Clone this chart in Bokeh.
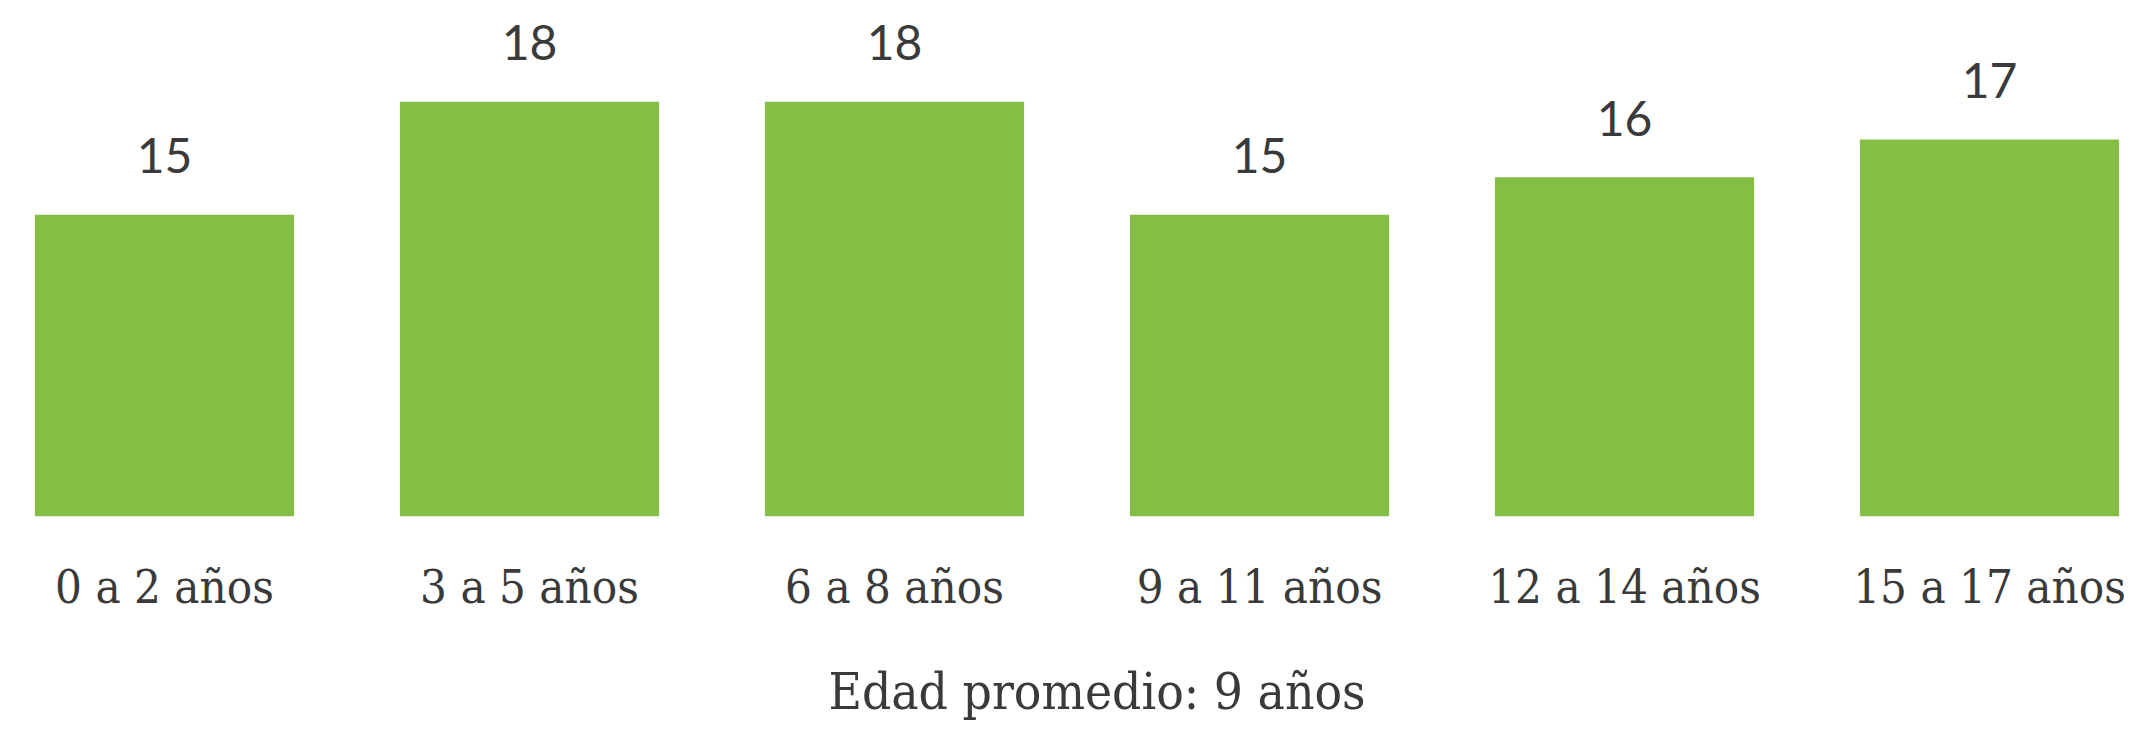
from bokeh.plotting import figure
from bokeh.models import ColumnDataSource, Range1d
from bokeh.core.properties import value
from bokeh.embed import file_html
from bokeh.resources import INLINE

# ---- data ----
categories = ["0 a 2 años", "3 a 5 años", "6 a 8 años", "9 a 11 años", "12 a 14 años", "15 a 17 años"]
values = [15, 18, 18, 15, 16, 17]
value_labels = ["15", "18", "18", "15", "16", "17"]
footer_text = ["Edad promedio: 9 años"]
axis_base = 7  # value at which bars start

positions = list(range(len(categories)))

W, H = 2130, 725
px_per_unit_x = 365.0
px_per_unit_y = 37.67
x0 = -164.0 / px_per_unit_x
base_px = 515.7  # distance from top of figure to bar base

p = figure(width=W, height=H, output_backend="svg", toolbar_location=None,
           x_range=Range1d(x0, x0 + W / px_per_unit_x),
           y_range=Range1d(axis_base - (H - base_px) / px_per_unit_y,
                           axis_base + base_px / px_per_unit_y),
           min_border=0, min_border_left=0, min_border_right=0,
           min_border_top=0, min_border_bottom=0)
p.axis.visible = False
p.grid.visible = False
p.outline_line_color = None
p.background_fill_color = "white"
p.border_fill_color = "white"

src = ColumnDataSource(dict(x=positions, top=values, cat=categories, lab=value_labels,
                            base=[axis_base] * len(values)))

p.vbar(x="x", top="top", bottom="base", width=0.71, source=src,
       fill_color="#82BF44", line_color=None)

text_color = "#3a3a3a"

p.text(x="x", y="top", text="lab", source=src, text_align="center",
       text_baseline="alphabetic", y_offset=-59,
       text_font=value("Lato"), text_font_size="48px", text_color=text_color)

p.text(x="x", y="base", text="cat", source=src, text_align="center",
       text_baseline="alphabetic", y_offset=70,
       text_font=value("DejaVu Serif Condensed, DejaVu Serif"), text_font_size="47px",
       text_color=text_color)

foot = ColumnDataSource(dict(x=[sum(positions) / len(positions)], y=[axis_base], t=footer_text))
p.text(x="x", y="y", text="t", source=foot, text_align="center",
       text_baseline="alphabetic", y_offset=175, x_offset=20,
       text_font=value("DejaVu Serif Condensed, DejaVu Serif"), text_font_size="51px",
       text_color=text_color)

open("out.html", "w").write(file_html(p, INLINE))
